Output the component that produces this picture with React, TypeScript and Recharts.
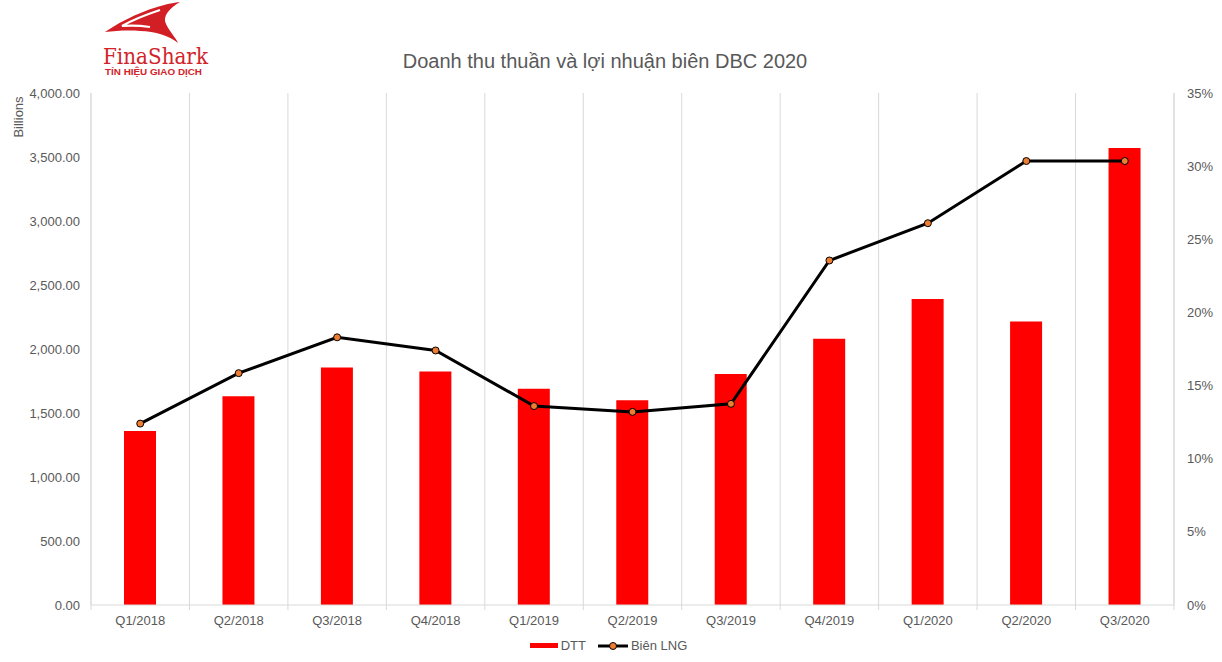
import { ComposedChart, Bar, Line, XAxis, YAxis, CartesianGrid } from 'recharts'

const QUARTERS = ['Q1/2018', 'Q2/2018', 'Q3/2018', 'Q4/2018', 'Q1/2019', 'Q2/2019', 'Q3/2019', 'Q4/2019', 'Q1/2020', 'Q2/2020', 'Q3/2020']
// doanh thu thuần, tỷ đồng
const DTT = [1360, 1630, 1855, 1825, 1690, 1600, 1805, 2080, 2390, 2215, 3570]
// biên lợi nhuận gộp, %
const BIEN_LNG = [12.4, 15.85, 18.3, 17.4, 13.6, 13.2, 13.75, 23.55, 26.1, 30.35, 30.35]
const LEFT_TICKS = [0, 500, 1000, 1500, 2000, 2500, 3000, 3500, 4000]
const RIGHT_TICKS = [0, 5, 10, 15, 20, 25, 30, 35]

const FONT = '"Liberation Sans", Arial, sans-serif'
const TEXT = '#595959'
const GRID = '#d9d9d9'

const chartData = QUARTERS.map((q, i) => ({ name: q, dtt: DTT[i], bien: BIEN_LNG[i] }))

const fmtNum = (v: number) => v.toLocaleString('en-US', { minimumFractionDigits: 2, maximumFractionDigits: 2 })

function QuarterTick({ x, y, payload, index }: any) {
  const half = payload?.offset ?? 0
  return (
    <g>
      <line x1={x - half} x2={x - half} y1={y} y2={y + 5} stroke={GRID} />
      {index === QUARTERS.length - 1 && <line x1={x + half} x2={x + half} y1={y} y2={y + 5} stroke={GRID} />}
      <text x={x} y={y + 20} textAnchor="middle" fill={TEXT} fontSize={13} fontFamily={FONT}>{payload.value}</text>
    </g>
  )
}

function Logo() {
  return (
    <svg width={120} height={80} style={{ position: 'absolute', left: 100, top: 0 }}>
      <path d="M5,32 C30,15 60,4 80,2 C70,8 62,16 66,24 C70,32 76,38 78,43 C70,36 55,31 40,31 C28,30 15,31 5,32 Z" fill="#d21f26" />
      <path d="M60,10 Q36,18 22,26 Q36,25 50,27" fill="none" stroke="#fff" strokeWidth={2.2} />
      <text x={3} y={64} fontSize={22} fill="#d2232a" fontFamily='"DejaVu Serif", serif' textLength={105} lengthAdjust="spacingAndGlyphs">FinaShark</text>
      <text x={5} y={75} fontSize={9} fontWeight={700} fill="#d2232a" fontFamily={FONT} textLength={97} lengthAdjust="spacingAndGlyphs">TÍN HIỆU GIAO DỊCH</text>
    </svg>
  )
}

export default function App() {
  return (
    <div style={{ position: 'absolute', left: 0, top: 0, width: 1222, height: 662, background: '#fff', fontFamily: FONT }}>
      <Logo />
      <div style={{ position: 'absolute', left: 0, width: 1210, top: 50, textAlign: 'center', fontSize: 20, color: TEXT }}>
        Doanh thu thuần và lợi nhuận biên DBC 2020
      </div>
      <div style={{ position: 'absolute', left: 18, top: 117, transform: 'translate(-50%, -50%) rotate(-90deg)', fontSize: 13, color: TEXT, whiteSpace: 'nowrap' }}>
        Billions
      </div>

      <ComposedChart width={1222} height={662} data={chartData} margin={{ top: 93, right: 0, left: 0, bottom: 27 }}>
        <CartesianGrid
          horizontal={false}
          stroke={GRID}
          verticalCoordinatesGenerator={({ offset }: any) =>
            Array.from({ length: QUARTERS.length + 1 }, (_, i) => offset.left + (i * offset.width) / QUARTERS.length)
          }
        />
        <XAxis dataKey="name" height={30} tickLine={false} tickSize={0} tickMargin={0} axisLine={{ stroke: GRID }} tick={<QuarterTick />} interval={0} />
        <YAxis
          yAxisId="left"
          width={91}
          domain={[0, 4000]}
          ticks={LEFT_TICKS}
          tickFormatter={fmtNum}
          tickLine={false}
          tickSize={0}
          tickMargin={11}
          axisLine={{ stroke: GRID }}
          tick={{ fill: TEXT, fontSize: 13, fontFamily: FONT }}
        />
        <YAxis
          yAxisId="right"
          orientation="right"
          width={48}
          domain={[0, 35]}
          ticks={RIGHT_TICKS}
          tickFormatter={(v: number) => `${v}%`}
          tickLine={false}
          tickSize={0}
          tickMargin={13}
          axisLine={{ stroke: GRID }}
          tick={{ fill: TEXT, fontSize: 13, fontFamily: FONT, textAnchor: 'start' }}
        />
        <Bar yAxisId="left" dataKey="dtt" fill="#ff0000" barSize={32} isAnimationActive={false} />
        <Line
          yAxisId="right"
          type="linear"
          dataKey="bien"
          stroke="#000"
          strokeWidth={3}
          dot={{ r: 3.5, fill: '#ed7d31', stroke: '#000', strokeWidth: 1 }}
          isAnimationActive={false}
        />
      </ComposedChart>

      {/* chú thích */}
      <div style={{ position: 'absolute', top: 638, left: 0, width: 1217, display: 'flex', justifyContent: 'center', alignItems: 'center', fontSize: 13, color: TEXT }}>
        <span style={{ display: 'inline-block', width: 28, height: 5, background: '#ff0000', marginRight: 3 }} />
        <span style={{ marginRight: 12 }}>DTT</span>
        <svg width={30} height={10} style={{ marginRight: 3 }}>
          <line x1={0} x2={30} y1={5} y2={5} stroke="#000" strokeWidth={3} />
          <circle cx={15} cy={5} r={3.5} fill="#ed7d31" stroke="#000" strokeWidth={1} />
        </svg>
        <span>Biên LNG</span>
      </div>
    </div>
  )
}
